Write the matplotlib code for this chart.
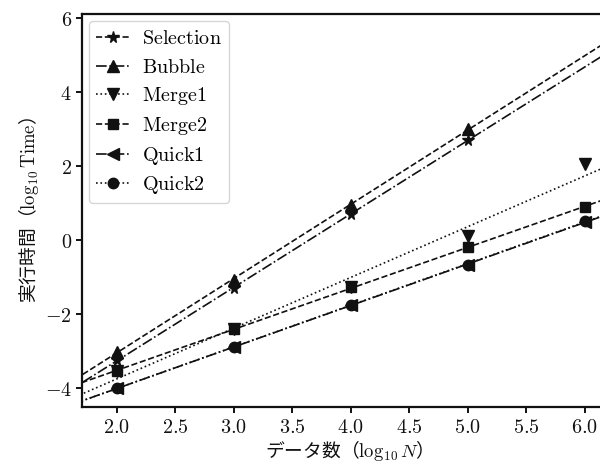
import numpy as np
import matplotlib
matplotlib.use("Agg")
import matplotlib.pyplot as plt
from matplotlib.lines import Line2D
from matplotlib.ticker import FuncFormatter

plt.rcParams['font.family'] = ['Noto Sans CJK JP', 'DejaVu Sans']
plt.rcParams['mathtext.fontset'] = 'cm'

# ---- data ----
x_slow = [2, 3, 4, 5]
x_fast = [2, 3, 4, 5, 6]
selection = [-3.25, -1.31, 0.70, 2.71]
bubble = [-3.03, -1.07, 0.95, 3.00]
merge1 = [-3.54, -2.42, -1.28, 0.12, 2.06]
merge2 = [-3.54, -2.42, -1.28, -0.20, 0.90]
quick1 = [-4.01, -2.90, -1.77, -0.68, 0.50]
quick2 = [-4.01, -2.90, -1.76, -0.67, 0.51]

labels = ["Selection", "Bubble", "Merge1", "Merge2", "Quick1", "Quick2"]
xs_list = [x_slow, x_slow, x_fast, x_fast, x_fast, x_fast]
ys_list = [selection, bubble, merge1, merge2, quick1, quick2]
markers = ["*", "^", "v", "s", "<", "o"]
legend_ls = ["--", "-.", ":", "--", "-.", ":"]
fit_ls = ["-.", "--", ":", "--", "-.", ":"]
msizes = [8.5, 8, 8, 7.5, 8.5, 7.5]

xticks = [2.0, 2.5, 3.0, 3.5, 4.0, 4.5, 5.0, 5.5, 6.0]
yticks = [-4, -2, 0, 2, 4, 6]

col = "#111111"

fig = plt.figure(figsize=(6.0, 4.62), dpi=100)
ax = fig.add_axes([0.136, 0.119, 0.874, 0.851])
xlim = (1.70, 6.18)
ylim = (-4.52, 6.12)
ax.set_xlim(*xlim)
ax.set_ylim(*ylim)

xx = np.array([xlim[0] - 0.5, xlim[1] + 0.5])
for xs, ys, ls in zip(xs_list, ys_list, fit_ls):
    k, b = np.polyfit(xs, ys, 1)
    ax.plot(xx, k * xx + b, ls=ls, color=col, lw=1.2, zorder=2)

for xs, ys, m, ms in zip(xs_list, ys_list, markers, msizes):
    ax.plot(xs, ys, ls="none", marker=m, ms=ms, color=col, zorder=3)

handles = [Line2D([], [], ls=ls, marker=m, ms=ms, color=col, lw=1.2)
           for ls, m, ms in zip(legend_ls, markers, msizes)]
ax.legend(handles, [r"$\mathrm{%s}$" % l for l in labels], loc="upper left",
          fontsize=14.5, labelspacing=0.38, handlelength=1.7, handletextpad=0.6,
          borderaxespad=0.35, borderpad=0.35, fancybox=True, edgecolor="0.8")

ax.set_xticks(xticks)
ax.set_yticks(yticks)
ax.xaxis.set_major_formatter(FuncFormatter(lambda v, p: r"$%.1f$" % v))
ax.yaxis.set_major_formatter(FuncFormatter(lambda v, p: r"$%d$" % round(v)))
ax.tick_params(labelsize=14.5, length=4, width=1.4, direction="out", colors=col, pad=3)
for s in ax.spines.values():
    s.set_linewidth(1.6)
    s.set_color(col)

ax.set_xlabel(r"データ数（$\log_{10}N$）", fontsize=13.5, color=col, labelpad=0)
ax.set_ylabel(r"実行時間（$\log_{10}\mathrm{Time}$）", fontsize=13.5, color=col, labelpad=3)

fig.savefig("out.png", dpi=100)
